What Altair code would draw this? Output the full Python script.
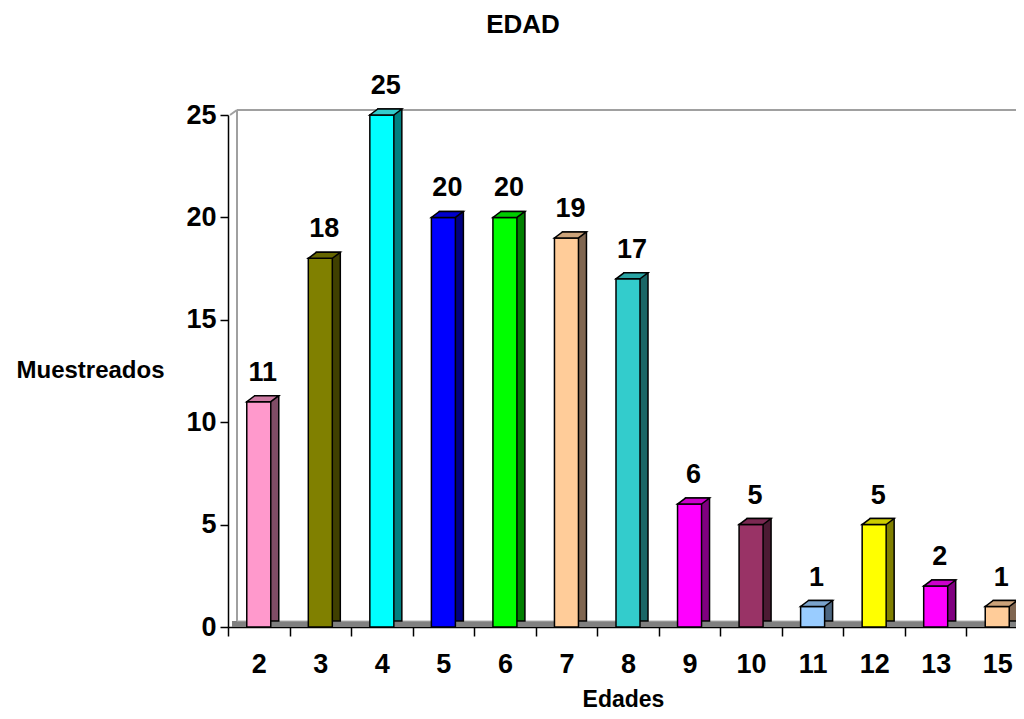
import altair as alt
import pandas as pd

edades = ["2", "3", "4", "5", "6", "7", "8", "9", "10", "11", "12", "13", "15"]
muestreados = [11, 18, 25, 20, 20, 19, 17, 6, 5, 1, 5, 2, 1]
front_colors = ["#FF99CC", "#808000", "#00FFFF", "#0000FF", "#00FF00", "#FFCC99",
                "#33CCCC", "#FF00FF", "#993366", "#99CCFF", "#FFFF00", "#FF00FF", "#FFCC99"]
top_colors = ["#CC7AA3", "#666600", "#33CCCC", "#0000CC", "#00CC00", "#CCA37A",
              "#29A3A3", "#CC00CC", "#7A2952", "#7AA3CC", "#CCCC00", "#CC00CC", "#CCA37A"]
side_colors = ["#804C66", "#404000", "#008080", "#000080", "#008000", "#806650",
               "#1A6666", "#800080", "#4C1A33", "#4C6680", "#808000", "#800080", "#806650"]

df = pd.DataFrame({"edad": edades, "n": muestreados, "c": front_colors,
                   "t": top_colors, "s": side_colors})

FONT = "Liberation Sans"
W, H = 786, 512
DX, DY = 8, 6
TOP_SHAPE = "M -1 0 L 1 0 L 1.6667 -0.5 L -0.3333 -0.5 Z"

xenc = alt.X("edad:N", sort=edades,
             scale=alt.Scale(range=[0, 800], paddingInner=0, paddingOuter=0),
             axis=alt.Axis(title="Edades", titleFont=FONT, titleFontSize=23, titleFontWeight="bold",
                           titleX=395, titleY=72, titleAlign="center", titleBaseline="middle",
                           labelFont=FONT, labelFontSize=27, labelFontWeight="bold", labelAngle=0,
                           labelColor="black", labelPadding=15, tickBand="extent", tickSize=9,
                           tickColor="black", tickWidth=1.5, domainColor="black", domainWidth=1.5))
yenc = alt.Y("n:Q", scale=alt.Scale(domain=[0, 25], nice=False),
             axis=alt.Axis(title="Muestreados", titleFont=FONT, titleFontSize=24, titleFontWeight="bold",
                           titleAngle=0, titleX=-138, titleY=255, titleAlign="center",
                           titleBaseline="middle", values=[0, 5, 10, 15, 20, 25], grid=False,
                           labelFont=FONT, labelFontSize=27, labelFontWeight="bold", labelColor="black",
                           tickSize=8, tickColor="black", tickWidth=1.5, labelPadding=4,
                           domainColor="black", domainWidth=1.5))

one = alt.Data(values=[{"a": 1}])
wall_v = alt.Chart(one).mark_rule(color="#A0A0A0", strokeWidth=2).encode(
    x=alt.value(9), y=alt.value(-5), y2=alt.value(506))
wall_h = alt.Chart(one).mark_rule(color="#A0A0A0", strokeWidth=2).encode(
    x=alt.value(9), x2=alt.value(800), y=alt.value(-5))
wall_d = alt.Chart(one).mark_rule(color="#A0A0A0", strokeWidth=2).encode(
    x=alt.value(2), x2=alt.value(9), y=alt.value(0), y2=alt.value(-5))
floor = alt.Chart(one).mark_rect(color="#808080").encode(
    x=alt.value(4), x2=alt.value(800), y=alt.value(506), y2=alt.value(512))
floor_edge = alt.Chart(one).mark_rule(color="#B0B0B0", strokeWidth=1).encode(
    x=alt.value(9), x2=alt.value(800), y=alt.value(506))
title = alt.Chart(one).mark_text(text="EDAD", font=FONT, fontSize=26, fontWeight="bold",
                                 baseline="middle", align="center", color="black").encode(
    x=alt.value(295), y=alt.value(-90))

back = alt.Chart(df).mark_bar(size=24, xOffset=DX, yOffset=-DY, y2Offset=-DY,
                              stroke="black", strokeWidth=1.5).encode(
    x=xenc, y=yenc, color=alt.Color("s:N", scale=None))
front = alt.Chart(df).mark_bar(size=24, stroke="black", strokeWidth=1.5).encode(
    x=xenc, y=yenc, color=alt.Color("c:N", scale=None))
topface = alt.Chart(df).mark_point(shape=TOP_SHAPE, size=576, filled=True, opacity=1,
                                   stroke="black", strokeWidth=1.5).encode(
    x=xenc, y=yenc, fill=alt.Fill("t:N", scale=None))
labels = alt.Chart(df).mark_text(font=FONT, fontSize=27, fontWeight="bold", baseline="bottom",
                                 dx=4, dy=-15, color="black").encode(
    x=xenc, y=yenc, text="n:Q")

chart = alt.layer(wall_v, wall_h, wall_d, floor, floor_edge, back, front, topface, labels, title).properties(
    width=W, height=H,
    autosize=alt.AutoSizeParams(type="none"),
    padding={"left": 220, "top": 107, "right": 2, "bottom": 84},
).configure_view(stroke=None)

chart.save("out.html", embed_options={"renderer": "svg", "actions": False})
